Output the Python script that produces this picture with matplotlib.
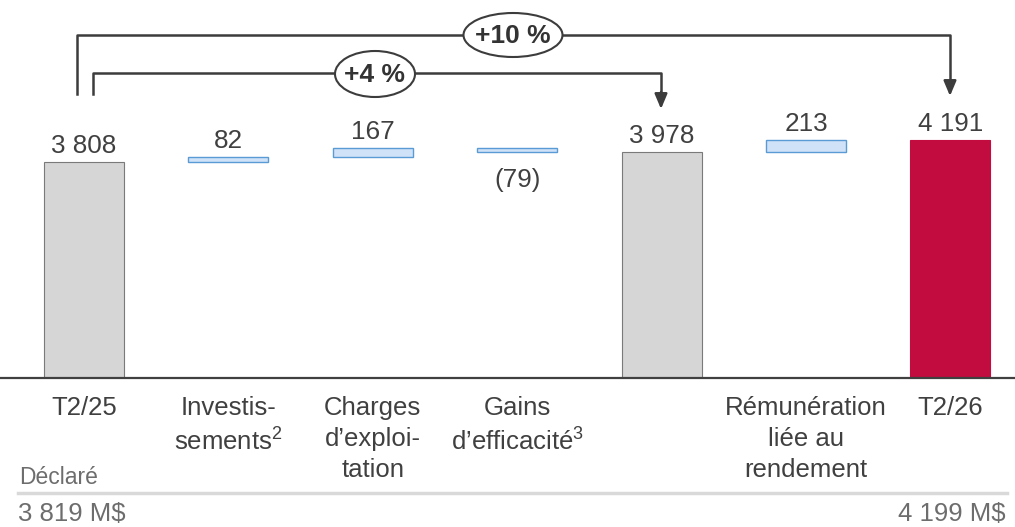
import matplotlib.pyplot as plt
from matplotlib.patches import Ellipse
from matplotlib.transforms import blended_transform_factory

plt.rcParams['font.family'] = ['Liberation Sans', 'DejaVu Sans']
plt.rcParams['mathtext.fontset'] = 'custom'
plt.rcParams['mathtext.rm'] = 'Liberation Sans'
plt.rcParams['mathtext.it'] = 'Liberation Sans'
plt.rcParams['mathtext.default'] = 'regular'

# waterfall data (M$)
categories = ["T2/25", "Investis-\nsements$^{2}$", "Charges\nd’exploi-\ntation",
              "Gains\nd’efficacité$^{3}$", "", "Rémunération\nliée au\nrendement", "T2/26"]
kinds = ["total", "delta", "delta", "delta", "total", "delta", "total"]
values = [3808, 82, 167, -79, 3978, 213, 4191]
value_labels = ["3 808", "82", "167", "(79)", "3 978", "213", "4 191"]
reported_start = "3 819 M\\$"
reported_end = "4 199 M\\$"
growth_labels = ["+10 %", "+4 %"]

W, H = 1015, 527
fig = plt.figure(figsize=(W / 100, H / 100), dpi=100)

base_px = 378          # baseline position from top
ax = fig.add_axes([0, (H - base_px) / H, 1, base_px / H])
ax.set_xlim(-84 / 144.4, (W - 84) / 144.4)
ax.set_ylim(0, base_px * 17.63)
for s in ["top", "left", "right"]:
    ax.spines[s].set_visible(False)
ax.spines["bottom"].set_color("#404040")
ax.spines["bottom"].set_linewidth(1.6)
ax.set_xticks([])
ax.set_yticks([])
ax.patch.set_alpha(0)

txt = "#404040"
fs = 18.8
grey, red = "#D6D6D6", "#C20B3E"
running = 0
for i, (k, v, lab) in enumerate(zip(kinds, values, value_labels)):
    if k == "total":
        last = i == len(values) - 1
        ax.bar(i, v, width=0.555, color=red if last else grey,
               edgecolor=red if last else "#7A7A7A", linewidth=0.8)
        running = v
        ax.annotate(lab, (i, v), xytext=(0, 4), textcoords="offset pixels",
                    ha="center", va="bottom", fontsize=fs, color=txt)
    else:
        lo = running if v > 0 else running + v
        ax.bar(i, abs(v), bottom=lo, width=0.555, color="#CFE2F8",
               edgecolor="#5B9BD5", linewidth=1.0)
        running += v
        if v > 0:
            ax.annotate(lab, (i, lo + abs(v)), xytext=(0, 4), textcoords="offset pixels",
                        ha="center", va="bottom", fontsize=fs, color=txt)
        else:
            ax.annotate(lab, (i, lo), xytext=(0, -16), textcoords="offset pixels",
                        ha="center", va="top", fontsize=fs, color=txt)

# category labels under the axis
tr = blended_transform_factory(ax.transData, fig.transFigure)
for i, c in enumerate(categories):
    ax.text(i, 1 - 396 / H, c, transform=tr, ha="center", va="top",
            fontsize=18.5, color=txt, linespacing=1.36)

# overlay in pixel coordinates for brackets and footer
ov = fig.add_axes([0, 0, 1, 1])
ov.set_xlim(0, W)
ov.set_ylim(H, 0)
ov.axis("off")
ov.patch.set_alpha(0)

lc, lw = "#3C3C3C", 1.8
arrow = dict(arrowstyle="-|>,head_length=0.9,head_width=0.38", color=lc, lw=lw,
             shrinkA=0, shrinkB=0)
# +10 % bracket
ov.plot([77, 77, 950, 950], [94, 35, 35, 82], color=lc, lw=lw, zorder=2)
ov.annotate("", xy=(950, 96), xytext=(950, 80), arrowprops=arrow)
ov.add_patch(Ellipse((513, 35), 99, 44, facecolor="white", edgecolor=lc, lw=1.5, zorder=3))
ov.text(513, 36, growth_labels[0], ha="center", va="center", fontsize=19,
        fontweight="bold", color="#333333", zorder=4)
# +4 % bracket
ov.plot([93, 93, 661, 661], [94, 73, 73, 94], color=lc, lw=lw, zorder=2)
ov.annotate("", xy=(661, 109), xytext=(661, 92), arrowprops=arrow)
ov.add_patch(Ellipse((375, 74), 80, 46, facecolor="white", edgecolor=lc, lw=1.5, zorder=3))
ov.text(375, 75, growth_labels[1], ha="center", va="center", fontsize=19,
        fontweight="bold", color="#333333", zorder=4)

# footer
ov.text(19, 478, "Déclaré", ha="left", va="center", fontsize=16.5, color="#6D6D6D")
ov.plot([18, 1007], [493, 493], color="#D9D9D9", lw=2.5)
ov.text(18, 514, reported_start, ha="left", va="center", fontsize=18.5, color="#6D6D6D")
ov.text(1006, 514, reported_end, ha="right", va="center", fontsize=18.5, color="#6D6D6D")

fig.savefig("out.png", dpi=100)
